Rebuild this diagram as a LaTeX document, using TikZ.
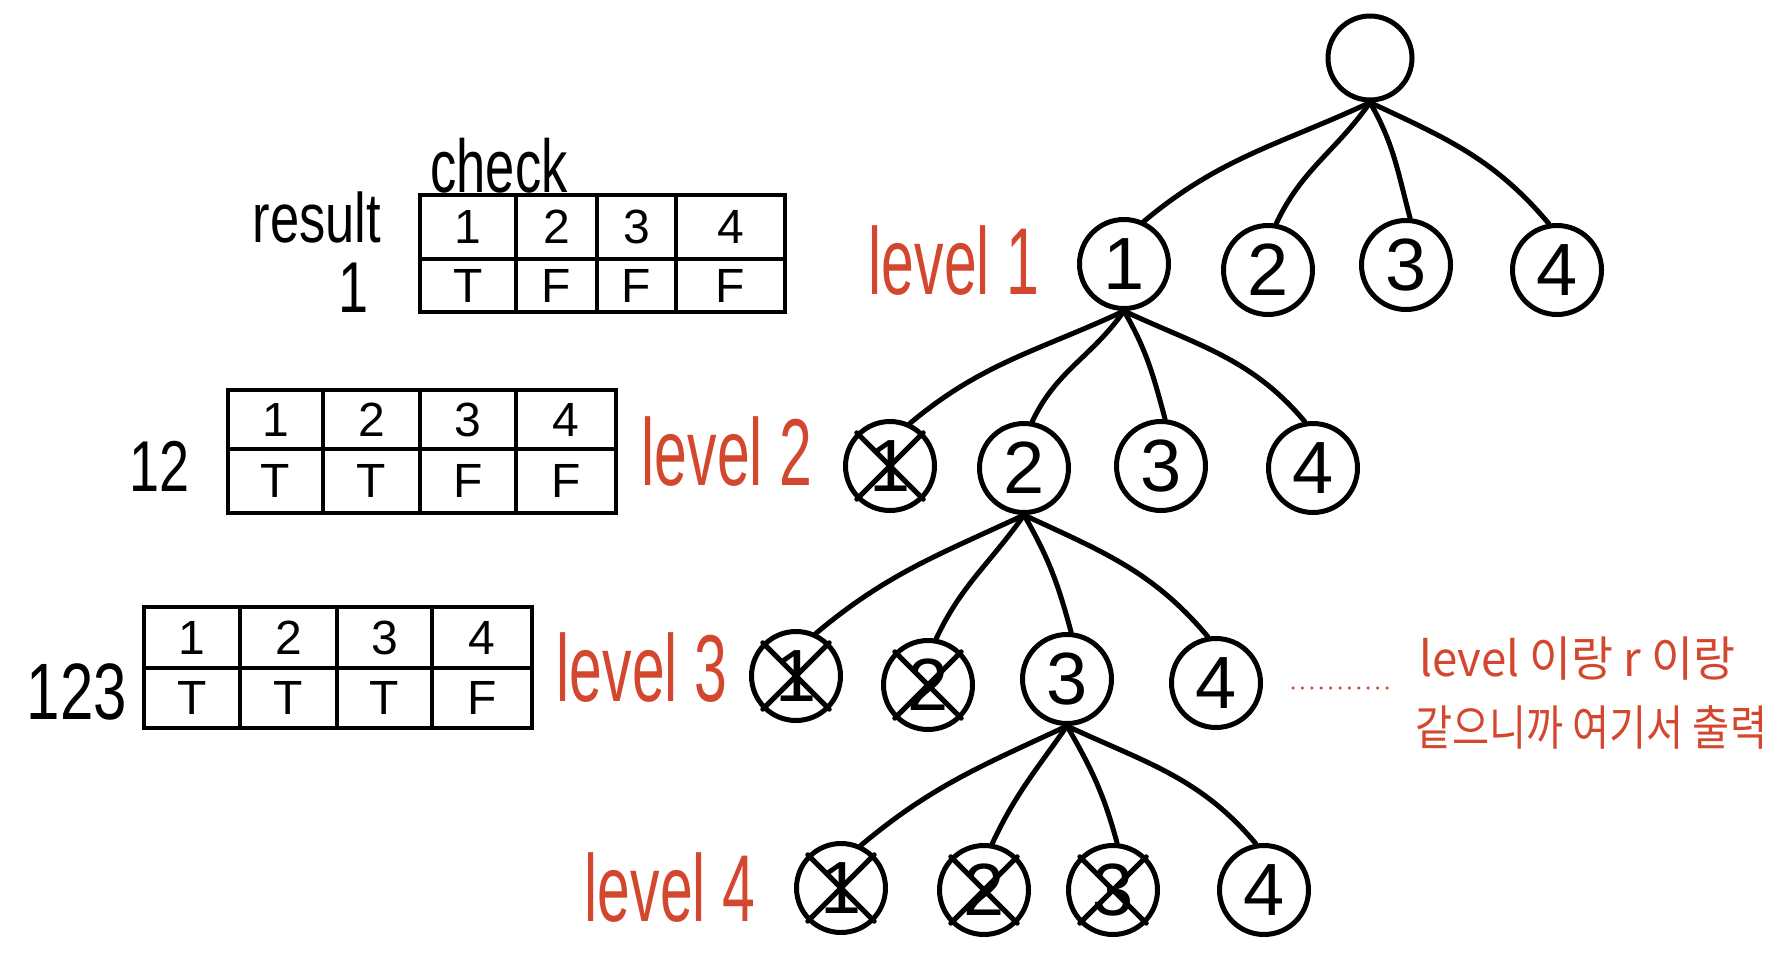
\documentclass[tikz,border=0pt]{standalone}
\usepackage{fontspec}
\setmainfont{Liberation Sans}
\newfontfamily\krfont{Noto Sans CJK KR}
\definecolor{pen}{HTML}{D4472F}
\newcommand\tcell[6]{\node[cellbox, minimum width={#3-#2}, minimum height={#5-#4}] (#1) at ({(#2+#3)/2},{-(#4+#5)/2}) {#6};}
\begin{document}
\begin{tikzpicture}[x=1pt,y=1pt,
  nd/.style={circle,draw,line width=5pt,minimum size=89pt,inner sep=0pt,font=\fontsize{74}{80}\selectfont},
  edge/.style={line width=5pt,line cap=round},
  crossln/.style={line width=5pt,line cap=round},
  cellbox/.style={rectangle,draw,line width=4.5pt,inner sep=0pt,font=\fontsize{48}{52}\selectfont},
  lvl/.style={text=pen,inner sep=0pt},
  lab/.style={inner sep=0pt},
  dotln/.style={pen,line width=3.5pt,line cap=round,dash pattern=on 0pt off 9.4pt}
]
\fill[white] (0,0) rectangle (1790,-961);
\useasboundingbox (0,0) rectangle (1790,-961);

% tree nodes
\node[nd, minimum size=84pt] (R) at (1370,-58) {};
\node[nd] (n1) at (1124,-264) {1};
\node[nd] (n2) at (1268,-270) {2};
\node[nd] (n3) at (1406,-265) {3};
\node[nd] (n4) at (1557,-270) {4};

\node[nd] (a1) at (890,-466) {1};
\node[nd] (a2) at (1024,-468) {2};
\node[nd] (a3) at (1161,-466) {3};
\node[nd] (a4) at (1313,-468) {4};

\node[nd] (b1) at (796,-676) {1};
\node[nd] (b2) at (928,-685) {2};
\node[nd] (b3) at (1067,-679) {3};
\node[nd] (b4) at (1216,-683) {4};

\node[nd] (c1) at (841,-888) {1};
\node[nd] (c2) at (984,-890) {2};
\node[nd] (c3) at (1113,-890) {3};
\node[nd] (c4) at (1264,-890) {4};

% crosses
\foreach \n in {a1,b1,b2,c1,c2,c3}{
  \draw[crossln] (\n.135) -- (\n.-45);
  \draw[crossln] (\n.45) -- (\n.-135);
}

% edges
\draw[edge] (R.south) to[out=205,in=40] (n1.65);
\draw[edge] (R.south) to[out=235,in=65] (n2.80);
\draw[edge] (R.south) to[out=-60,in=105] (n3.85);
\draw[edge] (R.south) to[out=-25,in=130] (n4.100);

\draw[edge] (n1.south) to[out=205,in=40] (a1.65);
\draw[edge] (n1.south) to[out=235,in=65] (a2.80);
\draw[edge] (n1.south) to[out=-60,in=105] (a3.85);
\draw[edge] (n1.south) to[out=-25,in=130] (a4.100);

\draw[edge] (a2.south) to[out=205,in=40] (b1.65);
\draw[edge] (a2.south) to[out=235,in=65] (b2.80);
\draw[edge] (a2.south) to[out=-60,in=105] (b3.85);
\draw[edge] (a2.south) to[out=-25,in=130] (b4.100);

\draw[edge] (b3.south) to[out=205,in=40] (c1.65);
\draw[edge] (b3.south) to[out=235,in=65] (c2.80);
\draw[edge] (b3.south) to[out=-60,in=105] (c3.85);
\draw[edge] (b3.south) to[out=-25,in=130] (c4.100);

% level labels
\node[lvl] (lv1) at (954,-261) {\scalebox{0.62}[1]{\fontsize{95}{100}\selectfont level 1}};
\node[lvl] (lv2) at (727,-452) {\scalebox{0.62}[1]{\fontsize{95}{100}\selectfont level 2}};
\node[lvl] (lv3) at (642,-668) {\scalebox{0.62}[1]{\fontsize{95}{100}\selectfont level 3}};
\node[lvl] (lv4) at (670,-888) {\scalebox{0.62}[1]{\fontsize{95}{100}\selectfont level 4}};

% table 1
\tcell{t1a}{420}{516}{195}{259}{1}
\tcell{t1b}{516}{597}{195}{259}{2}
\tcell{t1c}{597}{676}{195}{259}{3}
\tcell{t1d}{676}{785}{195}{259}{4}
\tcell{t1e}{420}{516}{259}{312}{T}
\tcell{t1f}{516}{597}{259}{312}{F}
\tcell{t1g}{597}{676}{259}{312}{F}
\tcell{t1h}{676}{785}{259}{312}{F}
\node[lab] (check) at (499,-166) {\scalebox{0.7}[1]{\fontsize{75}{80}\selectfont check}};
\node[lab] (result) at (317,-217) {\scalebox{0.75}[1]{\fontsize{70}{75}\selectfont result}};
\node[lab] (r1) at (354,-288) {\scalebox{0.75}[1]{\fontsize{72}{75}\selectfont 1}};

% table 2
\tcell{t2a}{228}{323}{390}{449}{1}
\tcell{t2b}{323}{420}{390}{449}{2}
\tcell{t2c}{420}{516}{390}{449}{3}
\tcell{t2d}{516}{616}{390}{449}{4}
\tcell{t2e}{228}{323}{449}{513}{T}
\tcell{t2f}{323}{420}{449}{513}{T}
\tcell{t2g}{420}{516}{449}{513}{F}
\tcell{t2h}{516}{616}{449}{513}{F}
\node[lab] (r12) at (160,-466) {\scalebox{0.75}[1]{\fontsize{72}{75}\selectfont 12}};

% table 3
\tcell{t3a}{144}{240}{607}{668}{1}
\tcell{t3b}{240}{337}{607}{668}{2}
\tcell{t3c}{337}{432}{607}{668}{3}
\tcell{t3d}{432}{532}{607}{668}{4}
\tcell{t3e}{144}{240}{668}{728}{T}
\tcell{t3f}{240}{337}{668}{728}{T}
\tcell{t3g}{337}{432}{668}{728}{T}
\tcell{t3h}{432}{532}{668}{728}{F}
\node[lab] (r123) at (77,-692) {\scalebox{0.75}[1]{\fontsize{80}{85}\selectfont 123}};

% note
\coordinate (dA) at (1293,-688);
\coordinate (dB) at (1387,-688);
\draw[dotln] (dA) -- (dB);
\node[lvl, anchor=west] (note1) at (1419,-659) {\scalebox{0.95}[1]{\krfont\fontsize{48}{54}\selectfont level 이랑 r 이랑}};
\node[lvl, anchor=west] (note2) at (1415,-727) {\scalebox{0.84}[1]{\krfont\fontsize{48}{54}\selectfont 같으니까 여기서 출력}};
\end{tikzpicture}
\end{document}
